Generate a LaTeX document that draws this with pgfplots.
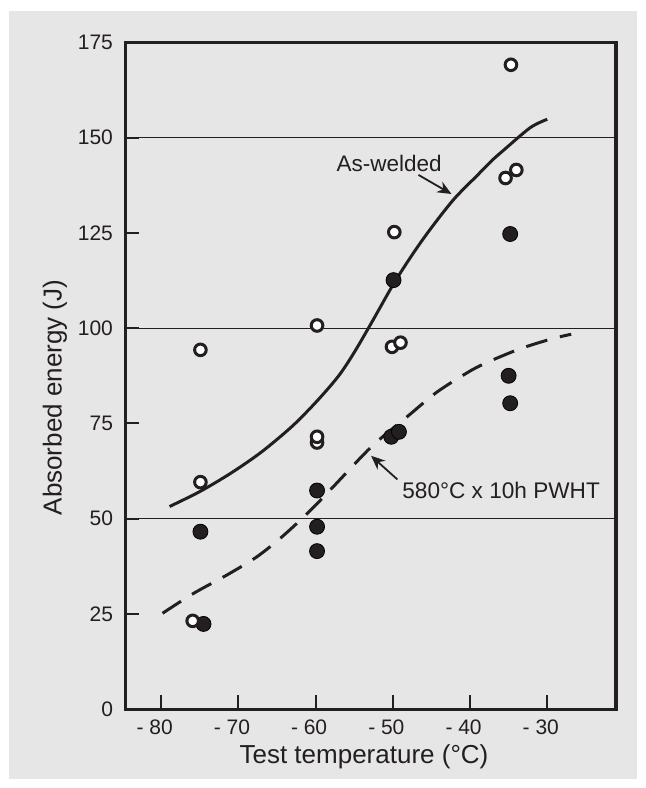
\documentclass[border=0pt]{standalone}
\usepackage{fontspec}
\setmainfont{Liberation Sans}
\usepackage{pgfplots}
\pgfplotsset{compat=1.18}
\usetikzlibrary{arrows.meta}
\definecolor{bg}{RGB}{230,230,230}
\definecolor{ink}{RGB}{35,31,32}
\begin{document}
\begin{tikzpicture}
\useasboundingbox (0,0) rectangle (322.5pt,394pt);
\fill[bg] (4.5pt,4.5pt) rectangle (318.5pt,388.5pt);
\begin{axis}[
  at={(62.75pt,39.35pt)}, anchor=south west,
  scale only axis, width=245.25pt, height=333.5pt,
  xmin=-84.6, xmax=-21.1, ymin=0, ymax=175,
  axis line style={line width=1.65pt, ink},
  tick pos=left, tick align=inside, major tick length=7pt,
  tick style={line width=1pt, ink},
  xtick={-80,-70,-60,-50,-40,-30},
  xticklabels={\llap{- }80,\llap{- }70,\llap{- }60,\llap{- }50,\llap{- }40,\llap{- }30},
  ytick={0,25,50,75,100,125,150,175},
  /pgf/number format/assume math mode=true,
  tick label style={font=\fontsize{10.5}{12}\selectfont, text=ink},
  yticklabel style={xshift=-2.75pt},
  xticklabel style={yshift=-1.5pt},
  extra y ticks={50,100,150}, extra y tick labels={},
  extra y tick style={grid=major, major grid style={line width=0.6pt, ink}},
  label style={font=\fontsize{13}{15}\selectfont, text=ink},
  xlabel={Test temperature (°C)},
  ylabel={Absorbed energy (J)},
  xlabel style={at={(axis description cs:0.4862,-0.082)}, anchor=base},
  ylabel style={at={(axis description cs:-0.130,0.4675)}, anchor=base},
]
% as-welded curve
\addplot[ink, line width=1.5pt, smooth, tension=0.5] coordinates {
(-78.9,53.2) (-75.0,57.1) (-71.0,61.9) (-67.0,67.5) (-63.0,74.3) (-59.8,80.9)
(-57.0,87.5) (-55.0,93.6) (-52.7,101.6) (-49.9,111.6) (-47.5,119.2) (-45.2,125.8)
(-42.1,133.8) (-39.0,140.2) (-37.2,143.9) (-35.7,146.6) (-32.2,152.6) (-30.0,154.8)};
% PWHT curve
\addplot[ink, line width=1.5pt, smooth, dash pattern=on 11pt off 6.5pt] coordinates {
(-79.8,25.2) (-75.8,30.4) (-71.5,35.2) (-67.6,40.0) (-64.2,45.5) (-60.7,52.1)
(-57.7,58.4) (-52.7,69.0) (-48.0,77.0) (-44.3,83.2) (-40.2,88.5) (-37.8,91.0)
(-33.5,94.6) (-29.4,97.2) (-26.9,98.4)};
% PWHT data (filled)
\addplot[only marks, mark=*, mark size=3.75pt, mark options={fill=ink, draw=none}] coordinates {
(-74.9,46.6) (-74.5,22.4)
(-59.8,57.4) (-59.8,47.9) (-59.8,41.5)
(-49.9,112.6) (-50.2,71.5) (-49.2,72.8)
(-34.8,124.7) (-35.0,87.5) (-34.8,80.3)};
% as-welded data (open)
\addplot[only marks, mark=*, mark size=2.9pt, mark options={fill=white, draw=ink, line width=1.5pt}] coordinates {
(-74.9,94.3) (-74.9,59.6) (-75.9,23.2)
(-59.8,100.7) (-59.8,70.0) (-59.8,71.5)
(-50.1,95.1) (-49.0,96.2) (-49.8,125.2)
(-34.7,169.1) (-35.4,139.4) (-34.0,141.5)};
\node[font=\fontsize{11.25}{13}\selectfont, text=ink, inner sep=0pt] at (axis cs:-50.47,143.3) {As-welded};
\draw[ink, line width=0.9pt, -{Stealth[length=7pt,width=6pt]}] (axis cs:-46.67,140.2) -- (axis cs:-42.4,135.2);
\node[font=\fontsize{11.3}{13}\selectfont, text=ink, inner sep=0pt, anchor=west] at (axis cs:-48.8,57.5) {580°C x 10h PWHT};
\draw[ink, line width=0.9pt, -{Stealth[length=7pt,width=6pt]}] (axis cs:-49.4,60.3) -- (axis cs:-52.8,66.5);
\end{axis}
\end{tikzpicture}
\end{document}
